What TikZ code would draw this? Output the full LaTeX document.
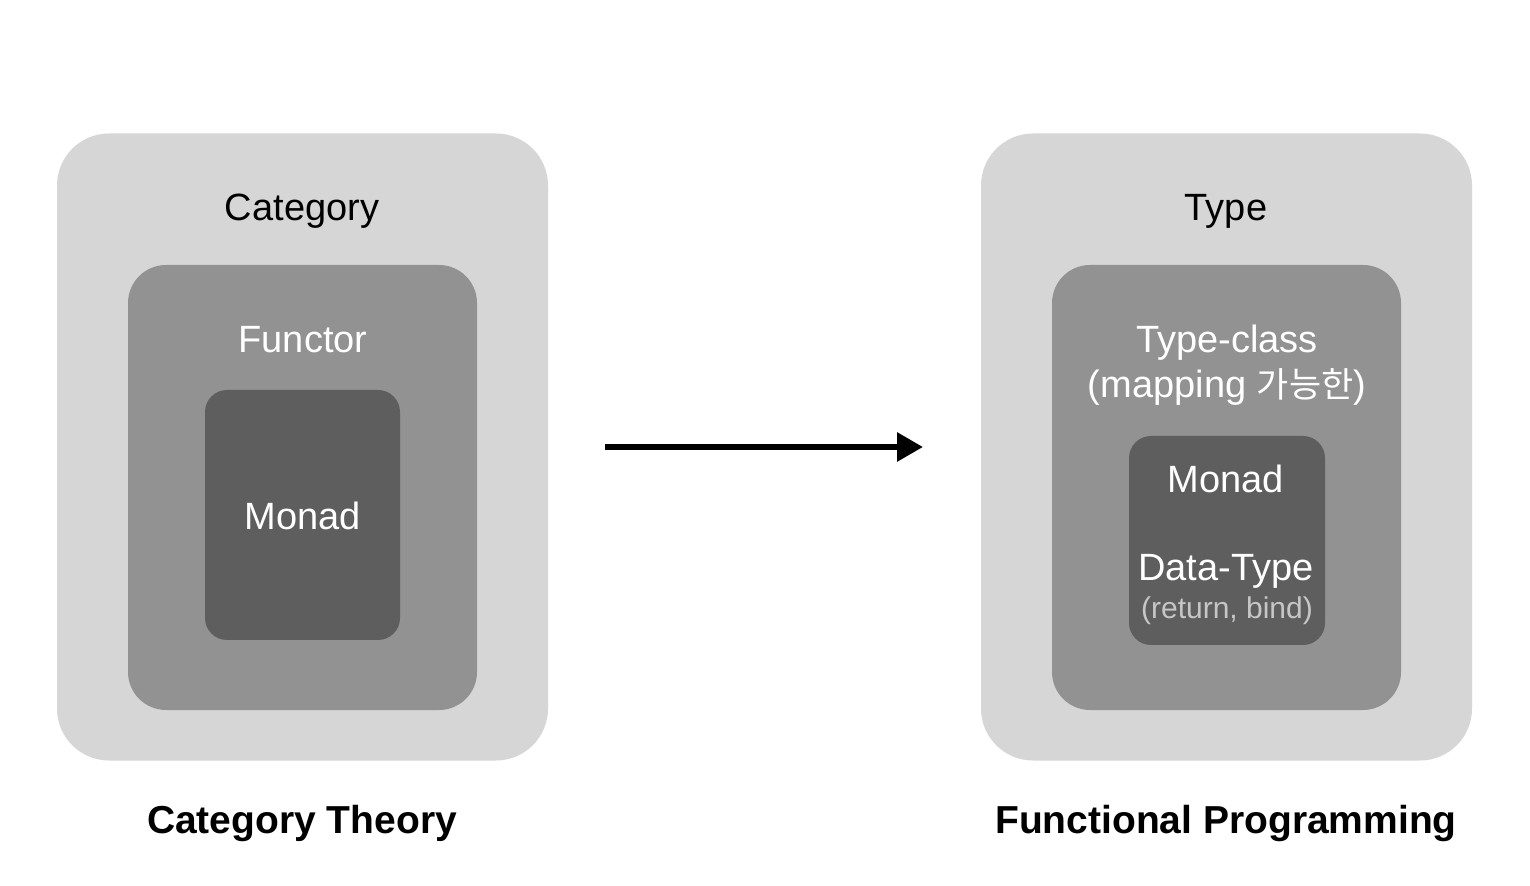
\documentclass[tikz,border=0pt]{standalone}
\usepackage{fontspec}
\setmainfont{Liberation Sans}
\newfontfamily\krfont{Noto Sans CJK KR}
\usetikzlibrary{arrows.meta}
\definecolor{outerc}{HTML}{D6D6D6}
\definecolor{midc}{HTML}{929292}
\definecolor{innerc}{HTML}{5E5E5E}
\definecolor{subc}{HTML}{C6C6C6}
\begin{document}
\begin{tikzpicture}[x=0.5pt,y=-0.5pt,
  outerbox/.style={fill=outerc, rounded corners=26pt, inner sep=0pt, outer sep=0pt, minimum width=245.5pt, minimum height=313.5pt},
  midbox/.style={fill=midc, rounded corners=19pt, inner sep=0pt, outer sep=0pt, minimum width=174.5pt, minimum height=222.5pt},
  innerbox/.style={fill=innerc, rounded corners=11pt, inner sep=0pt, outer sep=0pt},
  lbl/.style={inner sep=0pt, font=\fontsize{19}{23}\selectfont, align=center},
  wlbl/.style={lbl, text=white},
  sublbl/.style={inner sep=0pt, font=\fontsize{15}{18}\selectfont, text=subc},
  title/.style={inner sep=0pt, font=\fontsize{19.5}{23}\selectfont\bfseries}]
\useasboundingbox[fill=white] (0,0) rectangle (1530,886);
% left
\node[outerbox] (lo) at (302.5,447) {};
\node[midbox] (lm) at (302.5,487.5) {};
\node[innerbox, minimum width=97.5pt, minimum height=125pt] (li) at (302.5,515) {};
\node[lbl] (lcat) at (302,211) {Category};
\node[wlbl] (lfun) at (303,340) {Functor};
\node[wlbl] (lmon) at (303,516) {Monad};
\node[title] (lt) at (302,823) {Category Theory};
% right
\node[outerbox] (ro) at (1226.5,447) {};
\node[midbox] (rm) at (1226.5,487.5) {};
\node[innerbox, minimum width=98pt, minimum height=104.5pt] (ri) at (1227,540.5) {};
\node[lbl] (rtype) at (1226,211) {Type};
\node[wlbl] (rtc) at (1227,343) {Type-class};
\node[wlbl] (rmap) at (1227,387) {(mapping {\krfont\fontsize{17.5}{21}\selectfont 가능한})};
\node[wlbl] (rmon) at (1226,479) {Monad};
\node[wlbl] (rdt) at (1226,571) {Data-Type};
\node[sublbl] (rrb) at (1227,611) {(return, bind)};
\node[title] (rt) at (1226,823) {Functional Programming};
% arrow
\draw[line width=3pt, -{Triangle[length=13pt,width=14pt]}, shorten <=28.5pt, shorten >=29pt] (lo.east) -- (ro.west);
\end{tikzpicture}
\end{document}
